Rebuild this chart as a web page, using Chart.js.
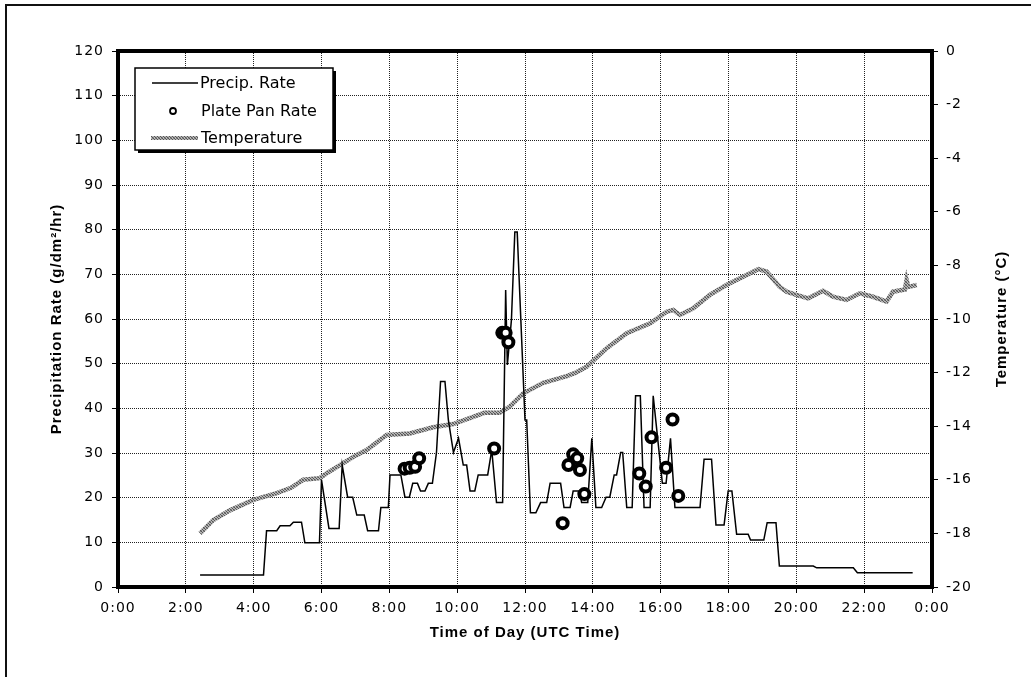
<!DOCTYPE html>
<html lang="en">
<head>
<meta charset="UTF-8">
<title>Precipitation Rate</title>
<script src="https://cdn.jsdelivr.net/npm/chart.js"></script>
<style>
  body { margin: 0; background: #fff; }
  #wrap { position: relative; width: 1031px; height: 677px; }
  #frame { position: absolute; left: 5px; top: 4px; right: 0; bottom: 0;
           border-top: 2px solid #111; border-left: 2px solid #111; pointer-events: none; }
</style>
</head>
<body>
<div id="wrap">
  <canvas id="chart" width="1031" height="677"></canvas>
  <div id="frame"></div>
</div>
<script>
// time of day in hours (UTC)
const precipTimes = [2.42, 4.29, 4.38, 4.68, 4.78, 5.07, 5.17, 5.41, 5.51, 5.94, 6.00, 6.22, 6.52, 6.61, 6.77, 6.92,
  7.04, 7.26, 7.36, 7.68, 7.75, 7.97, 8.02, 8.34, 8.46, 8.59, 8.69, 8.83, 8.92, 9.05, 9.15, 9.27, 9.39, 9.51, 9.64,
  9.74, 9.89, 10.04, 10.18, 10.28, 10.38, 10.52, 10.62, 10.90, 11.02, 11.16, 11.34, 11.43, 11.48, 11.60, 11.70, 11.77,
  12.00, 12.05, 12.16, 12.32, 12.46, 12.64, 12.74, 13.05, 13.15, 13.33, 13.42, 13.60, 13.67, 13.85, 13.97, 14.09,
  14.26, 14.39, 14.50, 14.63, 14.70, 14.82, 14.88, 15.00, 15.16, 15.26, 15.40, 15.51, 15.69, 15.78, 16.05, 16.16,
  16.29, 16.42, 17.16, 17.28, 17.50, 17.63, 17.87, 17.99, 18.10, 18.24, 18.58, 18.65, 19.04, 19.14, 19.40, 19.50,
  20.50, 20.60, 21.68, 21.80, 23.43];
const precipValues = [2.7, 2.7, 12.6, 12.6, 13.7, 13.7, 14.5, 14.5, 9.9, 9.9, 24.0, 13.1, 13.1, 27.3, 20.1, 20.1,
  16.1, 16.1, 12.6, 12.6, 17.8, 17.8, 25.1, 25.1, 20.1, 20.1, 23.2, 23.2, 21.5, 21.5, 23.2, 23.2, 30.1, 46.0, 46.0,
  37.4, 30.1, 33.3, 27.3, 27.3, 21.5, 21.5, 25.1, 25.1, 30.7, 18.9, 18.9, 66.5, 49.7, 59.8, 79.5, 79.5,
  37.4, 37.4, 16.6, 16.6, 18.9, 18.9, 23.2, 23.2, 17.8, 17.8, 21.5, 21.5, 18.9, 18.9, 33.3, 17.8,
  17.8, 20.1, 20.1, 25.1, 25.1, 30.1, 30.1, 17.8, 17.8, 42.8, 42.8, 17.8, 17.8, 42.8, 23.2, 23.2,
  33.3, 17.8, 17.8, 28.6, 28.6, 13.9, 13.9, 21.5, 21.5, 11.8, 11.8, 10.5, 10.5, 14.4, 14.4, 4.7,
  4.7, 4.3, 4.3, 3.2, 3.2];

const panTimes = [8.45, 8.60, 8.76, 8.88, 11.09, 11.33, 11.43, 11.51, 13.11, 13.28, 13.42, 13.54, 13.62, 13.75,
  15.37, 15.56, 15.73, 16.16, 16.35, 16.52];
const panValues = [26.5, 26.7, 26.9, 28.8, 31.0, 56.9, 56.9, 54.8, 14.3, 27.3, 29.7, 28.8, 26.2, 20.8,
  25.4, 22.5, 33.5, 26.7, 37.5, 20.4];

const tempTimes = [2.42, 2.81, 3.30, 3.99, 4.68, 5.10, 5.46, 5.95, 6.15, 6.64, 7.00, 7.33, 7.92, 8.60, 9.29, 9.88,
  10.37, 10.80, 11.25, 11.55, 11.95, 12.54, 13.23, 13.50, 13.82, 14.41, 15.00, 15.69, 16.18, 16.37, 16.57, 16.96,
  17.45, 17.94, 18.43, 18.88, 19.12, 19.51, 19.71, 20.00, 20.35, 20.79, 21.08, 21.48, 21.87, 22.26, 22.66, 22.85,
  23.20, 23.25, 23.30, 23.55];
const tempValues = [-18.0, -17.5, -17.14, -16.75, -16.5, -16.3, -16.0, -15.94, -15.76, -15.38, -15.1, -14.89, -14.33,
  -14.27, -14.04, -13.92, -13.7, -13.5, -13.5, -13.27, -12.77, -12.38, -12.13, -12.0, -11.78, -11.09, -10.53, -10.16,
  -9.73, -9.66, -9.85, -9.6, -9.1, -8.73, -8.42, -8.14, -8.23, -8.8, -8.98, -9.1, -9.23, -8.95, -9.17, -9.29, -9.04,
  -9.17, -9.35, -8.98, -8.9, -8.54, -8.8, -8.73];

const labels = ['Precip. Rate', 'Plate Pan Rate', 'Temperature'];

function toXY(xs, ys) {
  return xs.map((x, i) => ({x: x, y: ys[i]}));
}

// mottled grey texture for the temperature trace
function makePattern() {
  const c = document.createElement('canvas');
  c.width = 3; c.height = 3;
  const p = c.getContext('2d');
  p.fillStyle = '#b8b8b8'; p.fillRect(0, 0, 3, 3);
  p.fillStyle = '#555'; p.fillRect(0, 0, 1, 1); p.fillRect(1, 1, 1, 1); p.fillRect(2, 2, 1, 1);
  p.fillStyle = '#888'; p.fillRect(2, 0, 1, 1); p.fillRect(0, 2, 1, 1);
  return p.createPattern(c, 'repeat');
}

const ctx = document.getElementById('chart');
const tempPattern = makePattern();

const framePlugin = {
  id: 'framePlugin',
  beforeDraw(chart) {
    chart.ctx.letterSpacing = '1px';
  },
  afterDraw(chart) {
    const c = chart.ctx;
    const a = chart.chartArea;
    c.save();
    c.letterSpacing = '0px';
    c.strokeStyle = '#000';
    c.lineWidth = 4;
    c.strokeRect(a.left, a.top, a.right - a.left, a.bottom - a.top);

    // right axis title, reading upwards like the left one
    c.save();
    c.translate(1002, (a.top + a.bottom) / 2);
    c.rotate(-Math.PI / 2);
    c.letterSpacing = '1px';
    c.font = 'bold 15px "Liberation Sans"';
    c.textAlign = 'center';
    c.textBaseline = 'middle';
    c.fillStyle = '#000';
    c.fillText('Temperature (°C)', 0, 0);
    c.restore();

    // legend box
    const bx = 135, by = 68, bw = 198, bh = 82;
    c.fillStyle = '#000';
    c.fillRect(bx + 3, by + 3, bw, bh);
    c.fillStyle = '#fff';
    c.fillRect(bx, by, bw, bh);
    c.lineWidth = 1.5;
    c.strokeRect(bx, by, bw, bh);

    c.beginPath();
    c.moveTo(152, 83); c.lineTo(198, 83);
    c.lineWidth = 1.5; c.strokeStyle = '#000'; c.stroke();

    c.beginPath();
    c.arc(173, 111, 3, 0, Math.PI * 2);
    c.lineWidth = 1.8; c.stroke();

    c.beginPath();
    c.moveTo(151, 138); c.lineTo(198, 138);
    c.lineWidth = 4; c.strokeStyle = tempPattern; c.stroke();

    c.fillStyle = '#000';
    c.font = '16px "DejaVu Sans"';
    c.textBaseline = 'middle';
    c.fillText(labels[0], 200, 84);
    c.fillText(labels[1], 201, 112);
    c.fillText(labels[2], 201, 139);
    c.restore();
  }
};

const tickFont = {family: 'DejaVu Sans', size: 14};
const titleFont = {family: 'Liberation Sans', size: 15, weight: 'bold'};

new Chart(ctx, {
  type: 'scatter',
  data: {
    datasets: [
      {
        label: labels[0],
        data: toXY(precipTimes, precipValues),
        showLine: true,
        borderColor: '#000',
        borderWidth: 1.5,
        pointRadius: 0,
        yAxisID: 'y',
        order: 1
      },
      {
        label: labels[1],
        data: toXY(panTimes, panValues),
        showLine: false,
        pointRadius: 5,
        pointBorderWidth: 4,
        pointBorderColor: '#000',
        pointBackgroundColor: '#fff',
        yAxisID: 'y',
        order: 0
      },
      {
        label: labels[2],
        data: toXY(tempTimes, tempValues),
        showLine: true,
        borderColor: tempPattern,
        borderWidth: 4.5,
        pointRadius: 0,
        yAxisID: 'y2',
        order: 2
      }
    ]
  },
  options: {
    responsive: false,
    animation: false,
    layout: {padding: {top: 51, left: 0, right: 0, bottom: 0}},
    plugins: {
      legend: {display: false},
      tooltip: {enabled: false}
    },
    scales: {
      x: {
        type: 'linear',
        min: 0,
        max: 24,
        afterFit: (s) => { s.height = 90; },
        ticks: {
          stepSize: 2,
          color: '#000',
          font: tickFont,
          padding: 7,
          maxRotation: 0,
          callback: (v) => (v % 24) + ':00'
        },
        grid: {color: '#222', lineWidth: 1, tickLength: 6, tickColor: '#000'},
        border: {display: false, dash: [1, 1]},
        title: {display: true, text: 'Time of Day (UTC Time)', color: '#000', font: titleFont,
                padding: {top: 0, bottom: 35}}
      },
      y: {
        position: 'left',
        min: 0,
        max: 120,
        afterFit: (s) => { s.width = 118; },
        ticks: {stepSize: 10, color: '#000', font: tickFont, padding: 8},
        grid: {color: '#222', lineWidth: 1, tickLength: 6, tickColor: '#000'},
        border: {display: false, dash: [1, 1]},
        title: {display: true, text: 'Precipitation Rate (g/dm²/hr)', color: '#000', font: titleFont,
                padding: {top: 48, bottom: 0}}
      },
      y2: {
        position: 'right',
        min: -20,
        max: 0,
        afterFit: (s) => { s.width = 99; },
        ticks: {stepSize: 2, color: '#000', font: tickFont, padding: 8},
        grid: {drawOnChartArea: false, tickLength: 6, tickColor: '#000'},
        border: {display: false},
        title: {display: false}
      }
    }
  },
  plugins: [framePlugin]
});
</script>
</body>
</html>
